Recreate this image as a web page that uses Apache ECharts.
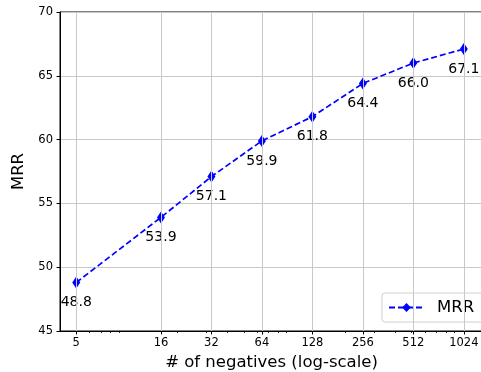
<!DOCTYPE html>
<html><head><meta charset="utf-8">
<script src="https://cdn.jsdelivr.net/npm/echarts@6/dist/echarts.min.js"></script>
<style>html,body{margin:0;padding:0;background:#fff}#c{width:481px;height:372px}</style>
</head><body><div id="c"></div>
<script>
const negatives = [5, 16, 32, 64, 128, 256, 512, 1024];
const mrr = [48.8, 53.9, 57.1, 59.9, 61.8, 64.4, 66.0, 67.1];
const minorTicks = [6, 7, 8, 9, 20, 30, 40, 50, 60, 70, 80, 90, 200, 300, 400, 500, 600, 700, 800, 900];
const yTicks = [45, 50, 55, 60, 65, 70];

const L = Math.log2;
const FONT = 'DejaVu Sans';
const XMIN = 2.0, XMAX = 10.38;
const chart = echarts.init(document.getElementById('c'), null, {renderer: 'canvas'});
const majorX = negatives.map(L);
const option = {
  animation: false,
  backgroundColor: '#fff',
  textStyle: {fontFamily: FONT},
  grid: {left: 60, right: -2, top: 12, bottom: 41, containLabel: false, outerBoundsMode: 'none',
    show: true, borderColor: '#000', borderWidth: 1, backgroundColor: 'transparent'},
  legend: {
    data: ['MRR'], left: 382, top: 293,
    padding: [6, 12, 6, 6], itemWidth: 35, itemHeight: 11, itemGap: 8,
    borderColor: '#d0d0d0', borderWidth: 1, borderRadius: 3,
    backgroundColor: 'rgba(255,255,255,0.85)',
    textStyle: {fontFamily: FONT, fontSize: 16.5, color: '#000', padding: [0, 0, 0, 8]}
  },
  xAxis: [{
    type: 'value', min: XMIN, max: XMAX, position: 'bottom',
    name: '# of negatives (log-scale)', nameLocation: 'middle', nameGap: 32,
    nameTextStyle: {fontFamily: FONT, fontSize: 16.5, color: '#000', verticalAlign: 'middle'},
    axisLine: {show: true, onZero: false, lineStyle: {color: '#000', width: 1}},
    axisTick: {show: true, customValues: majorX, length: 3.5, inside: false, lineStyle: {color: '#000', width: 1}},
    axisLabel: {show: true, customValues: majorX, margin: 6, fontFamily: FONT, fontSize: 11.5, color: '#000',
      formatter: v => String(Math.round(Math.pow(2, v)))},
    splitLine: {show: false}
  }, {
    type: 'value', min: XMIN, max: XMAX, position: 'bottom', gridIndex: 0,
    axisLine: {show: false},
    axisTick: {show: true, customValues: minorTicks.map(L), length: 2, lineStyle: {color: '#000', width: 0.8}},
    axisLabel: {show: false},
    splitLine: {show: false}
  }],
  yAxis: {
    type: 'value', min: 45, max: 70, interval: 5,
    name: 'MRR', nameLocation: 'middle', nameGap: 37, nameRotate: 90,
    nameTextStyle: {fontFamily: FONT, fontSize: 16.5, color: '#000', verticalAlign: 'middle'},
    axisLine: {show: true, lineStyle: {color: '#000', width: 1}},
    axisTick: {show: true, length: 3.5, lineStyle: {color: '#000', width: 1}},
    axisLabel: {margin: 7, fontFamily: FONT, fontSize: 11.5, color: '#000',
      formatter: v => yTicks.includes(v) ? String(v) : ''},
    splitLine: {show: true, lineStyle: {color: '#c8c8c8', width: 1}}
  },
  series: [{
    name: 'grid', type: 'line', data: [], z: 1, silent: true,
    markLine: {
      silent: true, symbol: ['none', 'none'], label: {show: false},
      lineStyle: {color: '#c8c8c8', width: 1, type: 'solid'},
      emphasis: {disabled: true},
      data: majorX.map(v => ({xAxis: v}))
    }
  }, {
    name: 'MRR', type: 'line', z: 3,
    data: negatives.map((n, i) => [L(n), mrr[i]]),
    lineStyle: {color: '#0000ff', width: 1.7, type: [6, 3]},
    itemStyle: {color: '#0000ff'},
    symbol: 'diamond', symbolSize: [8, 12], showSymbol: true,
    label: {show: true, position: 'bottom', distance: 7, fontFamily: FONT, fontSize: 14, color: '#000',
      formatter: p => mrr[p.dataIndex].toFixed(1)}
  }]
};
chart.setOption(option);
</script>
</body></html>
